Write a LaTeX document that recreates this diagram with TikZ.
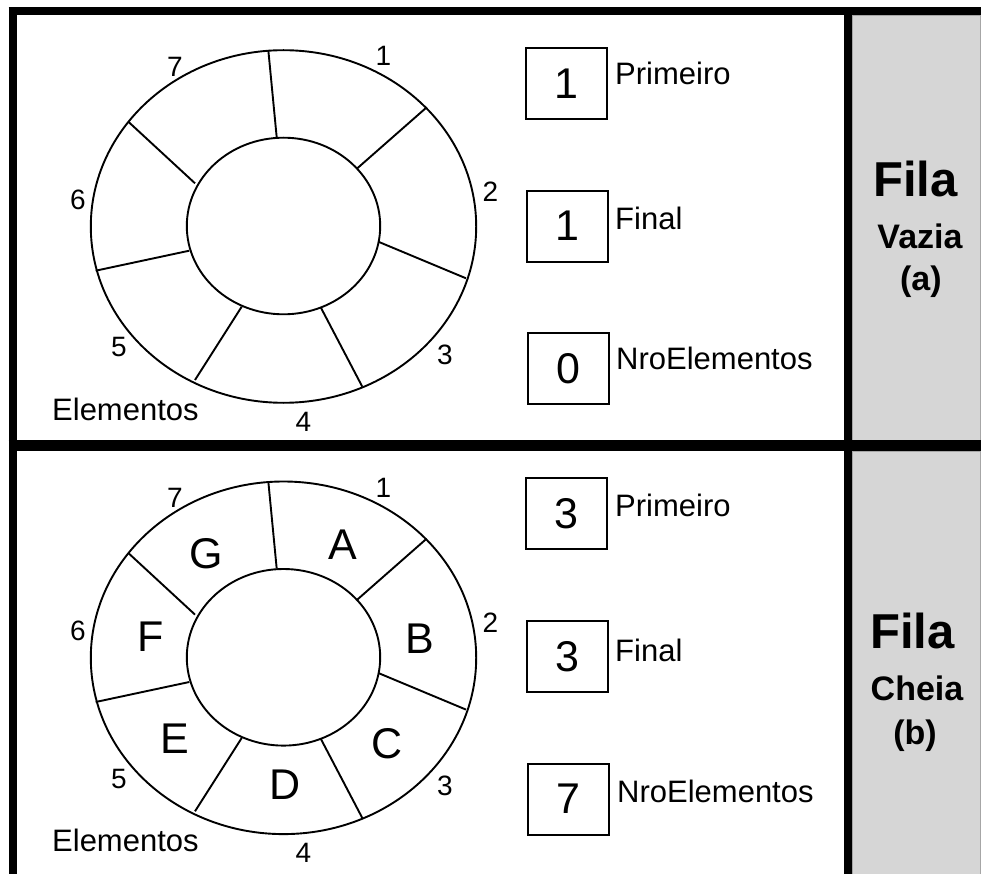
\documentclass[tikz,border=0pt]{standalone}
\usepackage{fontspec}
\setmainfont{Liberation Sans}
\definecolor{panelgray}{RGB}{214,214,214}
\newcommand{\fsz}[1]{\fontsize{#1}{#1}\selectfont}
\tikzset{
  ringline/.style={line width=1.9pt},
  frameline/.style={line width=8pt},
  valbox/.style={draw, line width=1.7pt, minimum width=81pt, minimum height=71pt, inner sep=0pt, font=\fsz{43}},
  varlabel/.style={anchor=base west, inner sep=0pt, font=\fsz{31}},
  idxlabel/.style={inner sep=0pt, font=\fsz{28}},
  cell/.style={inner sep=0pt, font=\fsz{43}},
  titlebig/.style={anchor=base, inner sep=0pt, font=\bfseries\fsz{49}},
  titlesmall/.style={anchor=base, inner sep=0pt, font=\bfseries\fsz{34}}
}
\newcommand{\myring}[1]{%
  \draw[ringline] (283.5,226.5) ellipse [x radius=192.7pt, y radius=176.3pt];
  \draw[ringline] (283.5,226) ellipse [x radius=96.7pt, y radius=88.3pt];
  \draw[ringline] (268.3,50) -- (276.7,137.3);
  \draw[ringline] (426.7,107.3) -- (357.3,168.3);
  \draw[ringline] (466,278.3) -- (378.3,241.7);
  \draw[ringline] (362.3,386.7) -- (320.7,307.3);
  \draw[ringline] (195,380) -- (241.7,306.7);
  \draw[ringline] (95.7,270.7) -- (189.3,250.7);
  \draw[ringline] (128.3,121.7) -- (195,183.3);
  \node[idxlabel] (#1i1) at (383.3,56.3) {1};
  \node[idxlabel] (#1i2) at (490.5,191.7) {2};
  \node[idxlabel] (#1i3) at (445,355) {3};
  \node[idxlabel] (#1i4) at (303.3,421.7) {4};
  \node[idxlabel] (#1i5) at (119,347.5) {5};
  \node[idxlabel] (#1i6) at (78,200) {6};
  \node[idxlabel] (#1i7) at (175,66.7) {7};
  \node[varlabel] (#1elem) at (52,420) {Elementos};
}
\begin{document}
\begin{tikzpicture}[x=1pt,y=-1pt]
\useasboundingbox (0,0) rectangle (982,874);
\fill[white] (0,0) rectangle (982,874);
% gray side panels
\fill[panelgray, draw=gray!70, line width=0.8pt] (852,15.5) rectangle (980.5,440);
\fill[panelgray, draw=gray!70, line width=0.8pt] (852,451) rectangle (980.5,880);
% frame
\draw[frameline] (12.5,7.5) -- (12.5,874);
\draw[frameline] (8.5,11.5) -- (980.5,11.5);
\draw[frameline] (848.3,7.5) -- (848.3,874);
\draw[line width=11pt] (8.5,445.5) -- (980.5,445.5);
% top panel
\myring{t}
\node[valbox] (tb1) at (566.5,83.5) {1};
\node[valbox] (tb2) at (567.8,226.2) {1};
\node[valbox] (tb3) at (568.8,368.8) {0};
\node[varlabel] (tl1) at (615,85) {Primeiro};
\node[varlabel] (tl2) at (615,230) {Final};
\node[varlabel] (tl3) at (616,370) {NroElementos};
\node[titlebig] (tt1) at (915.5,196.7) {Fila};
\node[titlesmall] (tt2) at (920,248.3) {Vazia};
\node[titlesmall] (tt3) at (920.8,291) {(a)};
% bottom panel
\begin{scope}[shift={(0,431.3)}]
\myring{b}
\end{scope}
\node[cell] (cA) at (342.5,545) {A};
\node[cell] (cB) at (420.3,638.3) {B};
\node[cell] (cC) at (387.5,743.3) {C};
\node[cell] (cD) at (285,785) {D};
\node[cell] (cE) at (175,738.3) {E};
\node[cell] (cF) at (150.8,636.7) {F};
\node[cell] (cG) at (206.7,553.3) {G};
\node[valbox] (bb1) at (566.2,513.8) {3};
\node[valbox] (bb2) at (567.5,656.2) {3};
\node[valbox] (bb3) at (568.5,799.2) {7};
\node[varlabel] (bl1) at (615,516.7) {Primeiro};
\node[varlabel] (bl2) at (615,661.7) {Final};
\node[varlabel] (bl3) at (617,802.7) {NroElementos};
\node[titlebig] (bt1) at (912.5,648) {Fila};
\node[titlesmall] (bt2) at (917,700) {Cheia};
\node[titlesmall] (bt3) at (915,744) {(b)};
\end{tikzpicture}
\end{document}
